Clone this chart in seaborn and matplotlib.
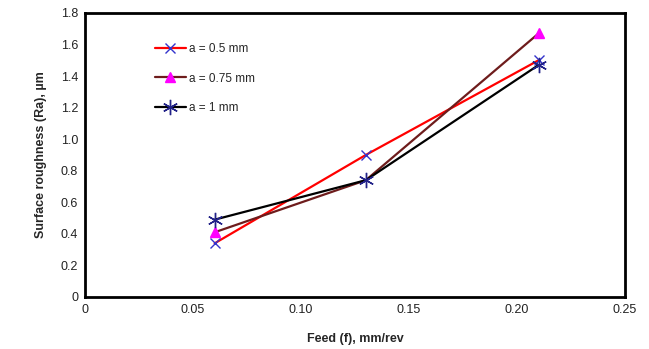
import matplotlib
matplotlib.use("Agg")
import matplotlib.pyplot as plt
from matplotlib.lines import Line2D
import seaborn as sns
import pandas as pd

feed = [0.06, 0.13, 0.21]
ra_05 = [0.34, 0.90, 1.50]
ra_075 = [0.41, 0.74, 1.67]
ra_1 = [0.49, 0.74, 1.47]
labels = ["a = 0.5 mm", "a = 0.75 mm", "a = 1 mm"]
xticks = [0, 0.05, 0.10, 0.15, 0.20, 0.25]
xticklabels = ["0", "0.05", "0.10", "0.15", "0.20", "0.25"]
yticks = [0, 0.2, 0.4, 0.6, 0.8, 1.0, 1.2, 1.4, 1.6, 1.8]
yticklabels = ["0", "0.2", "0.4", "0.6", "0.8", "1.0", "1.2", "1.4", "1.6", "1.8"]

sns.set_style("white")
plt.rcParams['font.family'] = ['Liberation Sans', 'DejaVu Sans']

fig = plt.figure(figsize=(6.49, 3.49), dpi=100)
ax = fig.add_axes([0.131, 0.149, 0.832, 0.814])

styles = [
    dict(color="#ff0000", marker="x", mec="#3333cc", mfc="#3333cc", ms=7, mew=1.0, every=None),
    dict(color="#6e1c1c", marker="^", mec="#ff00ff", mfc="#ff00ff", ms=7, mew=1.0, every=[0, 2]),
    dict(color="#000000", marker=(6, 2, 0), mec="#222288", mfc="#222288", ms=11, mew=1.0, every=None),
]
series = [ra_05, ra_075, ra_1]
handles = []
for vals, lab, st in zip(series, labels, styles):
    df = pd.DataFrame({"feed": feed, "ra": vals})
    sns.lineplot(data=df, x="feed", y="ra", ax=ax, color=st["color"], lw=1.6,
                 marker=st["marker"], markeredgecolor=st["mec"], markerfacecolor=st["mfc"],
                 markersize=st["ms"], markeredgewidth=st["mew"], markevery=st["every"],
                 legend=False)
    handles.append(Line2D([], [], color=st["color"], lw=1.6, marker=st["marker"],
                          markeredgecolor=st["mec"], markerfacecolor=st["mfc"],
                          markersize=st["ms"], markeredgewidth=st["mew"], label=lab))

ax.set_xlim(0, 0.25)
ax.set_ylim(0, 1.8)
ax.set_xticks(xticks)
ax.set_xticklabels(xticklabels)
ax.set_yticks(yticks)
ax.set_yticklabels(yticklabels)
ax.tick_params(axis="both", direction="out", length=3, width=1, labelsize=9, colors="#222222", pad=2)
for s in ax.spines.values():
    s.set_linewidth(2.0)
    s.set_color("black")
ax.set_xlabel("Feed (f), mm/rev", fontsize=9, fontweight="bold", labelpad=12)
ax.set_ylabel("Surface roughness (Ra), µm", fontsize=9, fontweight="bold", labelpad=10)

ax.legend(handles=handles, loc="upper left", bbox_to_anchor=(0.11, 0.93), frameon=False,
          fontsize=8.5, labelspacing=1.45, handlelength=2.6, handletextpad=0.3, numpoints=1)

fig.savefig("out.png", dpi=100)
